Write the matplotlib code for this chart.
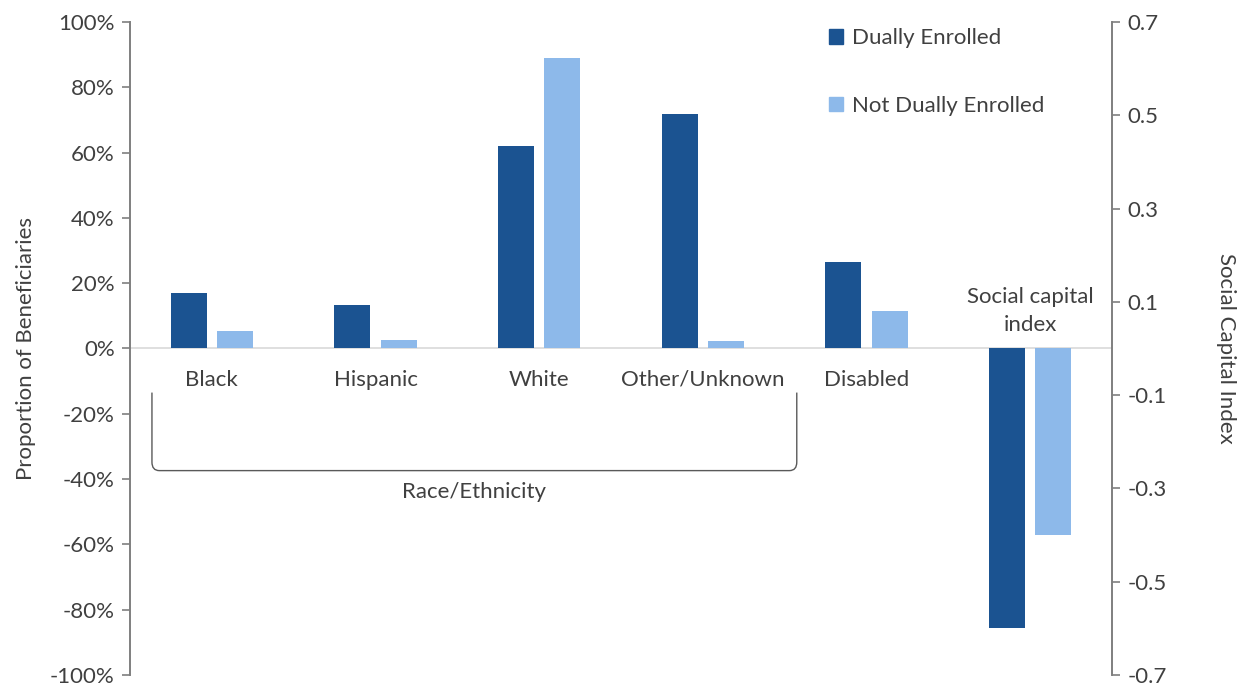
import numpy as np
import matplotlib
matplotlib.use("Agg")
import matplotlib.pyplot as plt
from matplotlib.patches import Patch, PathPatch
from matplotlib.path import Path

plt.rcParams['font.family'] = ['Lato', 'DejaVu Sans']

# Data
categories = ["Black", "Hispanic", "White", "Other/Unknown", "Disabled"]
dual_pct = [16.9, 13.2, 62.0, 71.8, 26.6]          # % of beneficiaries
not_dual_pct = [5.4, 2.7, 89.0, 2.3, 11.5]
sci_label = "Social capital\nindex"
sci_dual = -0.60                                    # social capital index
sci_not_dual = -0.40
series_names = ["Dually Enrolled", "Not Dually Enrolled"]
left_ticks = [-100, -80, -60, -40, -20, 0, 20, 40, 60, 80, 100]
right_ticks = [-0.7, -0.5, -0.3, -0.1, 0.1, 0.3, 0.5, 0.7]

DARK = "#1B5391"
LIGHT = "#8DB9EA"
TXT = "#404040"
SPINE = "#7f7f7f"
FS = 16

fig = plt.figure(figsize=(12.43, 6.85), dpi=100)
ax = fig.add_axes([0.1046, 0.0146, 0.79, 0.9533])
ax2 = ax.twinx()

n = len(categories) + 1
x = np.arange(len(categories))
w, off = 0.22, 0.142

ax.bar(x - off, dual_pct, w, color=DARK, zorder=3)
ax.bar(x + off, not_dual_pct, w, color=LIGHT, zorder=3)
ax2.bar([len(categories) - off], [sci_dual], w, color=DARK, zorder=3)
ax2.bar([len(categories) + off], [sci_not_dual], w, color=LIGHT, zorder=3)

ax.set_xlim(-0.5, n - 0.5)
ax.set_ylim(-100, 100)
ax2.set_ylim(-0.7, 0.7)

ax.axhline(0, color="#d9d9d9", lw=1.2, zorder=2)

ax.set_yticks(left_ticks)
ax.set_yticklabels([f"{t}%" for t in left_ticks])
ax2.set_yticks(right_ticks)
ax2.set_yticklabels([f"{t:.1f}" for t in right_ticks])
ax.set_xticks([])

for a in (ax, ax2):
    for s in a.spines.values():
        s.set_visible(False)
    a.tick_params(axis='y', colors=SPINE, labelcolor=TXT, labelsize=FS,
                  length=6, width=1.2, pad=5)
ax.spines['left'].set_visible(True)
ax.spines['left'].set_color(SPINE)
ax.spines['left'].set_linewidth(1.4)
ax2.spines['right'].set_visible(True)
ax2.spines['right'].set_color(SPINE)
ax2.spines['right'].set_linewidth(1.4)

ax.set_ylabel("Proportion of Beneficiaries", fontsize=FS, color=TXT, labelpad=10)
ax2.set_ylabel("Social Capital Index", fontsize=FS, color=TXT, rotation=-90,
               labelpad=50)

# Category labels
for i, c in enumerate(categories):
    ax.text(i, -9.5, c, ha='center', va='center', fontsize=FS, color=TXT)
ax.text(len(categories), 11.5, sci_label, ha='center', va='center',
        fontsize=FS, color=TXT, linespacing=1.45)

# Bracket grouping the race/ethnicity categories
x0, x1 = -0.366, 3.574
ytop, ybot = -13.5, -37.4
rx, ry = 0.045, 2.6
verts = [(x0, ytop), (x0, ybot + ry), (x0, ybot), (x0 + rx, ybot),
         (x1 - rx, ybot), (x1, ybot), (x1, ybot + ry), (x1, ytop)]
codes = [Path.MOVETO, Path.LINETO, Path.CURVE3, Path.CURVE3,
         Path.LINETO, Path.CURVE3, Path.CURVE3, Path.LINETO]
ax.add_patch(PathPatch(Path(verts, codes), fill=False, ec="#595959", lw=1.0,
                       zorder=4))
ax.text((x0 + x1) / 2, -44, "Race/Ethnicity", ha='center', va='center',
        fontsize=FS, color=TXT)

handles = [Patch(color=DARK), Patch(color=LIGHT)]
ax.legend(handles, series_names, loc='upper left',
          bbox_to_anchor=(0.6595, 0.972), bbox_transform=fig.transFigure,
          frameon=False, fontsize=FS, labelcolor=TXT, handlelength=0.65,
          handleheight=0.65, handletextpad=0.4, labelspacing=2.15,
          borderaxespad=0)

fig.savefig("out.png", dpi=100, facecolor="white")
